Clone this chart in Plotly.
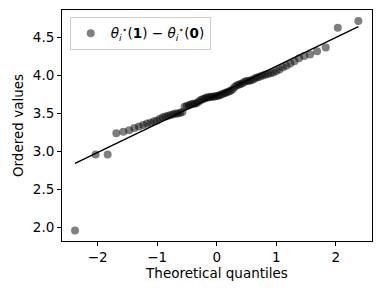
import plotly.graph_objects as go

# Theoretical quantiles (x) and ordered values (y)
theoretical_q = [-2.381, -2.035, -1.833, -1.687, -1.569, -1.470, -1.384, -1.307, -1.237, -1.173,
                 -1.113, -1.056, -1.004, -0.953, -0.905, -0.859, -0.815, -0.772, -0.731, -0.691,
                 -0.652, -0.613, -0.576, -0.540, -0.504, -0.469, -0.434, -0.400, -0.367, -0.334,
                 -0.301, -0.268, -0.236, -0.204, -0.172, -0.141, -0.109, -0.078, -0.047, -0.016,
                 0.016, 0.047, 0.078, 0.109, 0.141, 0.172, 0.204, 0.236, 0.268, 0.301,
                 0.334, 0.367, 0.400, 0.434, 0.469, 0.504, 0.540, 0.576, 0.613, 0.652,
                 0.691, 0.731, 0.772, 0.815, 0.859, 0.905, 0.953, 1.004, 1.056, 1.113,
                 1.173, 1.237, 1.307, 1.384, 1.470, 1.569, 1.687, 1.833, 2.035, 2.381]
ordered_vals = [1.96, 2.96, 2.96, 3.24, 3.26, 3.28, 3.31, 3.33, 3.35, 3.37,
                3.38, 3.40, 3.41, 3.43, 3.45, 3.46, 3.47, 3.48, 3.49, 3.50,
                3.50, 3.51, 3.52, 3.59, 3.60, 3.61, 3.62, 3.63, 3.63, 3.64,
                3.66, 3.68, 3.69, 3.70, 3.71, 3.71, 3.72, 3.72, 3.72, 3.73,
                3.73, 3.74, 3.75, 3.76, 3.77, 3.78, 3.79, 3.80, 3.82, 3.85,
                3.87, 3.88, 3.89, 3.90, 3.92, 3.93, 3.93, 3.94, 3.95, 3.97,
                3.98, 3.99, 4.00, 4.01, 4.02, 4.03, 4.04, 4.06, 4.08, 4.11,
                4.13, 4.16, 4.19, 4.23, 4.26, 4.28, 4.32, 4.37, 4.63, 4.72]

# Fitted reference line endpoints
fit_x = [-2.381, 2.381]
fit_y = [2.843, 4.645]

x_ticks = [-2, -1, 0, 1, 2]
y_ticks = [2.0, 2.5, 3.0, 3.5, 4.0, 4.5]

legend_label = "<i>θ<sub>i</sub></i><sup>⋆</sup>(<b>1</b>) − <i>θ<sub>i</sub></i><sup>⋆</sup>(<b>0</b>)"

font_family = "DejaVu Sans"
fs = 13.5

fig = go.Figure()
fig.add_trace(go.Scatter(
    x=theoretical_q, y=ordered_vals, mode="markers",
    marker=dict(color="rgba(0,0,0,0.5)", size=8, line=dict(width=0)),
    name=legend_label, showlegend=True,
))
fig.add_trace(go.Scatter(
    x=fit_x, y=fit_y, mode="lines",
    line=dict(color="black", width=1.5), showlegend=False,
))

axis_common = dict(
    showline=True, linecolor="black", linewidth=1, mirror=True,
    ticks="outside", ticklen=4, tickcolor="black", tickwidth=1,
    showgrid=False, zeroline=False, automargin=False,
    tickfont=dict(family=font_family, size=fs, color="black"),
)

fig.update_layout(
    width=381, height=294,
    margin=dict(l=62, r=9, t=10, b=53),
    paper_bgcolor="white", plot_bgcolor="white",
    font=dict(family=font_family, size=fs, color="black"),
    xaxis=dict(range=[-2.6, 2.61], tickvals=x_ticks,
               ticktext=[("−" + str(abs(v))) if v < 0 else str(v) for v in x_ticks],
               title=dict(text="Theoretical quantiles", standoff=4,
                          font=dict(family=font_family, size=fs, color="black")),
               **axis_common),
    yaxis=dict(range=[1.82, 4.865], tickvals=y_ticks,
               ticktext=[f"{v:.1f}" for v in y_ticks],
               title=dict(text="Ordered values", standoff=6,
                          font=dict(family=font_family, size=fs, color="black")),
               **axis_common),
    legend=dict(x=0.025, y=0.97, xanchor="left", yanchor="top",
                bordercolor="#cccccc", borderwidth=1,
                bgcolor="rgba(255,255,255,0.8)",
                font=dict(family=font_family, size=fs, color="black")),
)

fig.write_html("out.html",
               config={"displayModeBar": False},
               post_script="document.body.style.margin='0';document.body.style.padding='0';")
